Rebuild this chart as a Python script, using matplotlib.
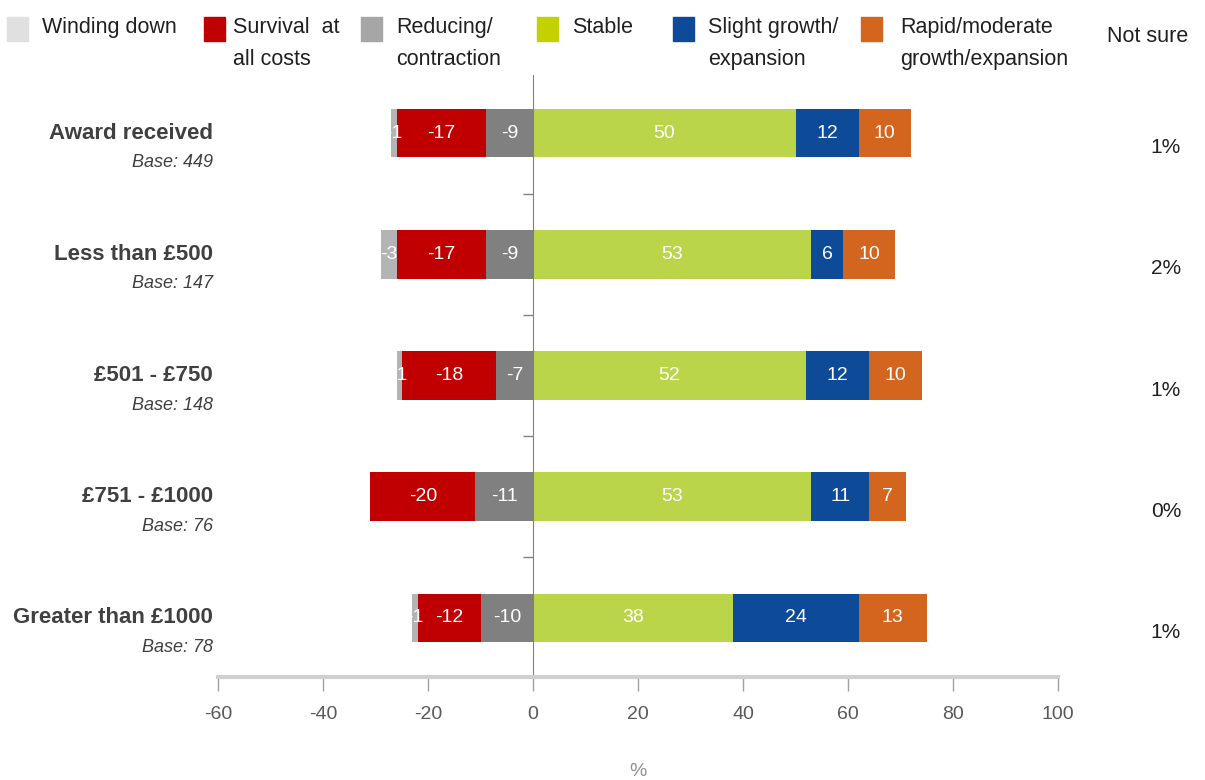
import numpy as np
import matplotlib.pyplot as plt
from matplotlib.patches import Rectangle
from matplotlib.transforms import blended_transform_factory

plt.rcParams['font.family'] = ['Liberation Sans', 'DejaVu Sans']
plt.rcParams['axes.unicode_minus'] = False

# data
categories = ['Award received', 'Less than £500', '£501 - £750', '£751 - £1000', 'Greater than £1000']
bases = [449, 147, 148, 76, 78]
winding = [1, 3, 1, 0, 1]
survival = [17, 17, 18, 20, 12]
reducing = [9, 9, 7, 11, 10]
stable = [50, 53, 52, 53, 38]
slight = [12, 6, 12, 11, 24]
rapid = [10, 10, 10, 7, 13]
not_sure = [1, 2, 1, 0, 1]

legend_names = ['Winding down', 'Survival  at\nall costs', 'Reducing/\ncontraction', 'Stable',
                'Slight growth/\nexpansion', 'Rapid/moderate\ngrowth/expansion']
bar_cols = ['#B4B4B4', '#C00000', '#808080', '#BBD54A', '#0D4A98', '#D4651F']
leg_cols = ['#E0E0E0', '#C00000', '#A6A6A6', '#C3D100', '#0D4A98', '#D4651F']

fig = plt.figure(figsize=(12.05, 7.8), dpi=100)
ax = fig.add_axes([218/1205, 103/780, 840/1205, 602/780])

y = np.arange(len(categories))
h = 0.4
winding = np.array(winding)
survival = np.array(survival)
reducing = np.array(reducing)

# negative side, from zero outward
neg = [(reducing, 0 * reducing), (survival, reducing), (winding, reducing + survival)]
neg_cols = [bar_cols[2], bar_cols[1], bar_cols[0]]
for (vals, start), c in zip(neg, neg_cols):
    ax.barh(y, -vals, left=-start, height=h, color=c, edgecolor='none')
    for yi, v, s in zip(y, vals, start):
        if v > 0:
            ax.text(-s - v / 2, yi, str(-v), color='white', ha='center', va='center', fontsize=14)

left = np.zeros(len(categories))
for vals, c in zip([stable, slight, rapid], bar_cols[3:]):
    vals = np.array(vals)
    ax.barh(y, vals, left=left, height=h, color=c, edgecolor='none')
    for yi, v, s in zip(y, vals, left):
        ax.text(s + v / 2, yi, str(v), color='white', ha='center', va='center', fontsize=14)
    left = left + vals

ax.set_xlim(-60, 100)
ax.set_ylim(4 + 59/121, -58/121)
ax.set_xticks(np.arange(-60, 101, 20))
ax.set_yticks(np.arange(0.5, 4, 1))
ax.set_yticklabels([])
for s in ['top', 'right']:
    ax.spines[s].set_visible(False)
ax.spines['left'].set_position(('data', 0))
ax.spines['left'].set_color('#808080')
ax.spines['bottom'].set_color('#D0D0D0')
ax.spines['bottom'].set_linewidth(3)
ax.tick_params(axis='y', direction='out', length=7, color='#808080', width=1)
ax.tick_params(axis='x', direction='out', length=10, color='#A0A0A0', width=1,
               labelsize=14, labelcolor='#595959', pad=11)
ax.set_xlabel('%', color='#909090', fontsize=14, labelpad=29)

tr = blended_transform_factory(fig.transFigure, ax.transData)
for yi, name, b, ns in zip(y, categories, bases, not_sure):
    ax.text(213/1205, yi, name, transform=tr, ha='right', va='center', fontsize=16,
            fontweight='bold', color='#404040')
    ax.text(213/1205, yi + 0.245, 'Base: %d' % b, transform=tr, ha='right', va='center',
            fontsize=13, style='italic', color='#404040')
    ax.text(1166/1205, yi + 0.12, '%d%%' % ns, transform=tr, ha='center', va='center',
            fontsize=15, color='#202020')

# legend along the top
sq_x = [7, 204, 361, 537, 673, 861]
tx_x = [42, 233, 396, 572, 708, 900]
for sx, tx, name, c in zip(sq_x, tx_x, legend_names, leg_cols):
    fig.patches.append(Rectangle((sx/1205, 1 - 41/780), 21/1205, 24/780, transform=fig.transFigure,
                                 color=c))
    fig.text(tx/1205, 1 - 17/780, name, ha='left', va='top', fontsize=15.5, color='#202020',
             linespacing=1.7)
fig.text(1107/1205, 1 - 36/780, 'Not sure', ha='left', va='center', fontsize=15.5, color='#202020')

plt.savefig('out.png', dpi=100)
